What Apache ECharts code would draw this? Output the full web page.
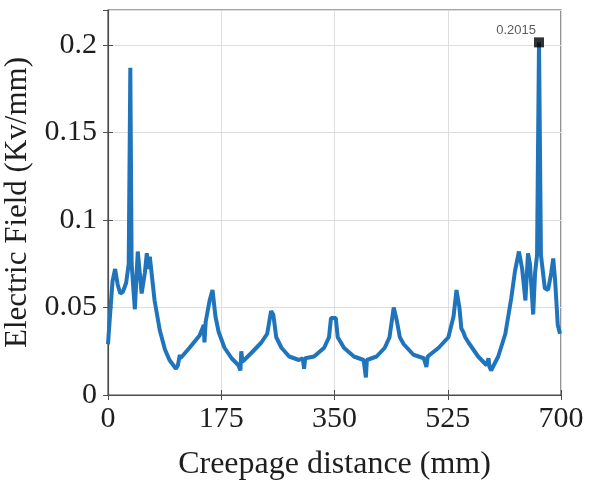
<!DOCTYPE html>
<html>
<head>
<meta charset="utf-8">
<script src="https://cdn.jsdelivr.net/npm/echarts@6/dist/echarts.min.js"></script>
<style>
  html, body { margin: 0; padding: 0; background: #fff; }
  #chart { width: 597px; height: 490px; }
</style>
</head>
<body>
<div id="chart"></div>
<script>
// creepage distance (mm) and electric field (kV/mm)
var distance = [0, 3, 7, 11, 15, 19, 23, 28, 32, 34.5, 36.5, 41.5, 46, 52, 57, 60, 62, 64.6, 72, 80, 88, 95, 105, 108, 111, 112,
    126, 141.5, 148, 149, 151, 157, 161.5, 166, 171, 180, 191, 201.5, 204.6, 206, 207.7, 221.5, 237, 246, 252, 255.4,
    260, 268, 280, 295, 301, 303, 304.6, 318.5, 334, 341.5, 344.6, 352, 355, 364.6, 380, 395, 398.5, 400, 415, 427.7,
    435, 441.5, 446, 451, 457, 472, 488, 492, 494, 511, 526, 534, 538.5, 543, 546, 549, 552, 557, 572, 585, 588, 589.5,
    592, 603, 614, 623, 629, 635, 640, 645, 649, 652, 657, 660, 663, 666, 669, 675, 680, 685, 688, 691, 695, 698.5];
var field = [0.029, 0.045, 0.065, 0.072, 0.063, 0.058, 0.059, 0.064, 0.075, 0.187, 0.075, 0.049, 0.082, 0.058, 0.07, 0.081, 0.072, 0.079, 0.054, 0.037, 0.026, 0.02, 0.015, 0.017, 0.023, 0.021,
    0.027, 0.034, 0.04, 0.03, 0.042, 0.054, 0.06, 0.045, 0.036, 0.027, 0.021, 0.017, 0.014, 0.025, 0.019, 0.024, 0.03, 0.035, 0.048, 0.046,
    0.033, 0.027, 0.022, 0.02, 0.021, 0.015, 0.021, 0.022, 0.027, 0.033, 0.044, 0.044, 0.033, 0.027, 0.022, 0.02, 0.01, 0.02, 0.022, 0.027,
    0.033, 0.05, 0.043, 0.033, 0.029, 0.023, 0.021, 0.016, 0.022, 0.027, 0.033, 0.045, 0.06, 0.05, 0.038, 0.036, 0.033, 0.03, 0.022, 0.017, 0.021, 0.016,
    0.014, 0.022, 0.035, 0.055, 0.071, 0.082, 0.072, 0.054, 0.081, 0.075, 0.046, 0.07, 0.08, 0.2015, 0.08, 0.061, 0.06, 0.07, 0.078, 0.065, 0.04, 0.035];
var peakPoint = [666, 0.2015];
var xTicks = [0, 175, 350, 525, 700];
var yTicks = [0, 0.05, 0.1, 0.15, 0.2];

var chart = echarts.init(document.getElementById('chart'));

var lineData = [];
for (var i = 0; i < distance.length; i++) {
    lineData.push([distance[i], field[i]]);
}

var serif = '"Liberation Serif", "DejaVu Serif", serif';
var textColor = '#1e1e1e';

var option = {
    animation: false,
    backgroundColor: '#fff',
    grid: {
        left: 108, right: 36, top: 10, bottom: 95,
        outerBoundsMode: 'none', containLabel: false,
        show: true, borderColor: '#4d4d4d', borderWidth: 1.2, backgroundColor: '#fff'
    },
    xAxis: [{
        type: 'value', min: 0, max: 700, interval: 175,
        name: 'Creepage distance (mm)', nameLocation: 'middle', nameGap: 54,
        nameTextStyle: { fontFamily: serif, fontSize: 32, color: textColor },
        axisLine: { show: true, lineStyle: { color: '#4d4d4d', width: 1.2 } },
        axisTick: { show: true, inside: true, length: 5, lineStyle: { color: '#4d4d4d' } },
        axisLabel: {
            fontFamily: serif, fontSize: 30, color: textColor, margin: 9,
            formatter: function (v) { return xTicks.indexOf(v) >= 0 ? String(v) : ''; }
        },
        splitLine: { show: true, lineStyle: { color: '#dedede', width: 1 } }
    }, {
        type: 'value', min: 0, max: 700, interval: 175, position: 'top',
        axisLine: { show: false },
        axisTick: { show: true, inside: true, length: 5, lineStyle: { color: '#4d4d4d' } },
        axisLabel: { show: false },
        splitLine: { show: false }
    }],
    yAxis: [{
        type: 'value', min: 0, max: 0.22, interval: 0.05,
        name: 'Electric Field (Kv/mm)', nameLocation: 'middle', nameGap: 65,
        nameTextStyle: { fontFamily: serif, fontSize: 31, color: textColor },
        axisLine: { show: true, lineStyle: { color: '#4d4d4d', width: 1.2 } },
        axisTick: { show: true, inside: true, length: 5, lineStyle: { color: '#4d4d4d' } },
        axisLabel: {
            fontFamily: serif, fontSize: 30, color: textColor, margin: 11,
            showMaxLabel: false,
            formatter: function (v) {
                for (var k = 0; k < yTicks.length; k++) {
                    if (Math.abs(yTicks[k] - v) < 1e-9) return String(yTicks[k]);
                }
                return '';
            }
        },
        splitLine: { show: true, lineStyle: { color: '#dedede', width: 1 } }
    }, {
        type: 'value', min: 0, max: 0.22, interval: 0.05, position: 'right',
        axisLine: { show: false },
        axisTick: { show: true, inside: true, length: 5, lineStyle: { color: '#4d4d4d' } },
        axisLabel: { show: false },
        splitLine: { show: false }
    }],
    series: [{
        type: 'line',
        data: lineData,
        showSymbol: false,
        symbol: 'none',
        lineStyle: { color: '#1f74bb', width: 4 },
        z: 2
    }, {
        type: 'scatter',
        data: [peakPoint],
        symbol: 'rect',
        symbolSize: 10,
        itemStyle: { color: '#000' },
        label: {
            show: true, position: 'left', distance: 0, offset: [2, -12],
            formatter: function (p) { return String(p.value[1]); },
            fontFamily: 'Arial, "Liberation Sans", sans-serif', fontSize: 13, color: '#333'
        },
        z: 3
    }]
};

chart.setOption(option);
</script>
</body>
</html>
